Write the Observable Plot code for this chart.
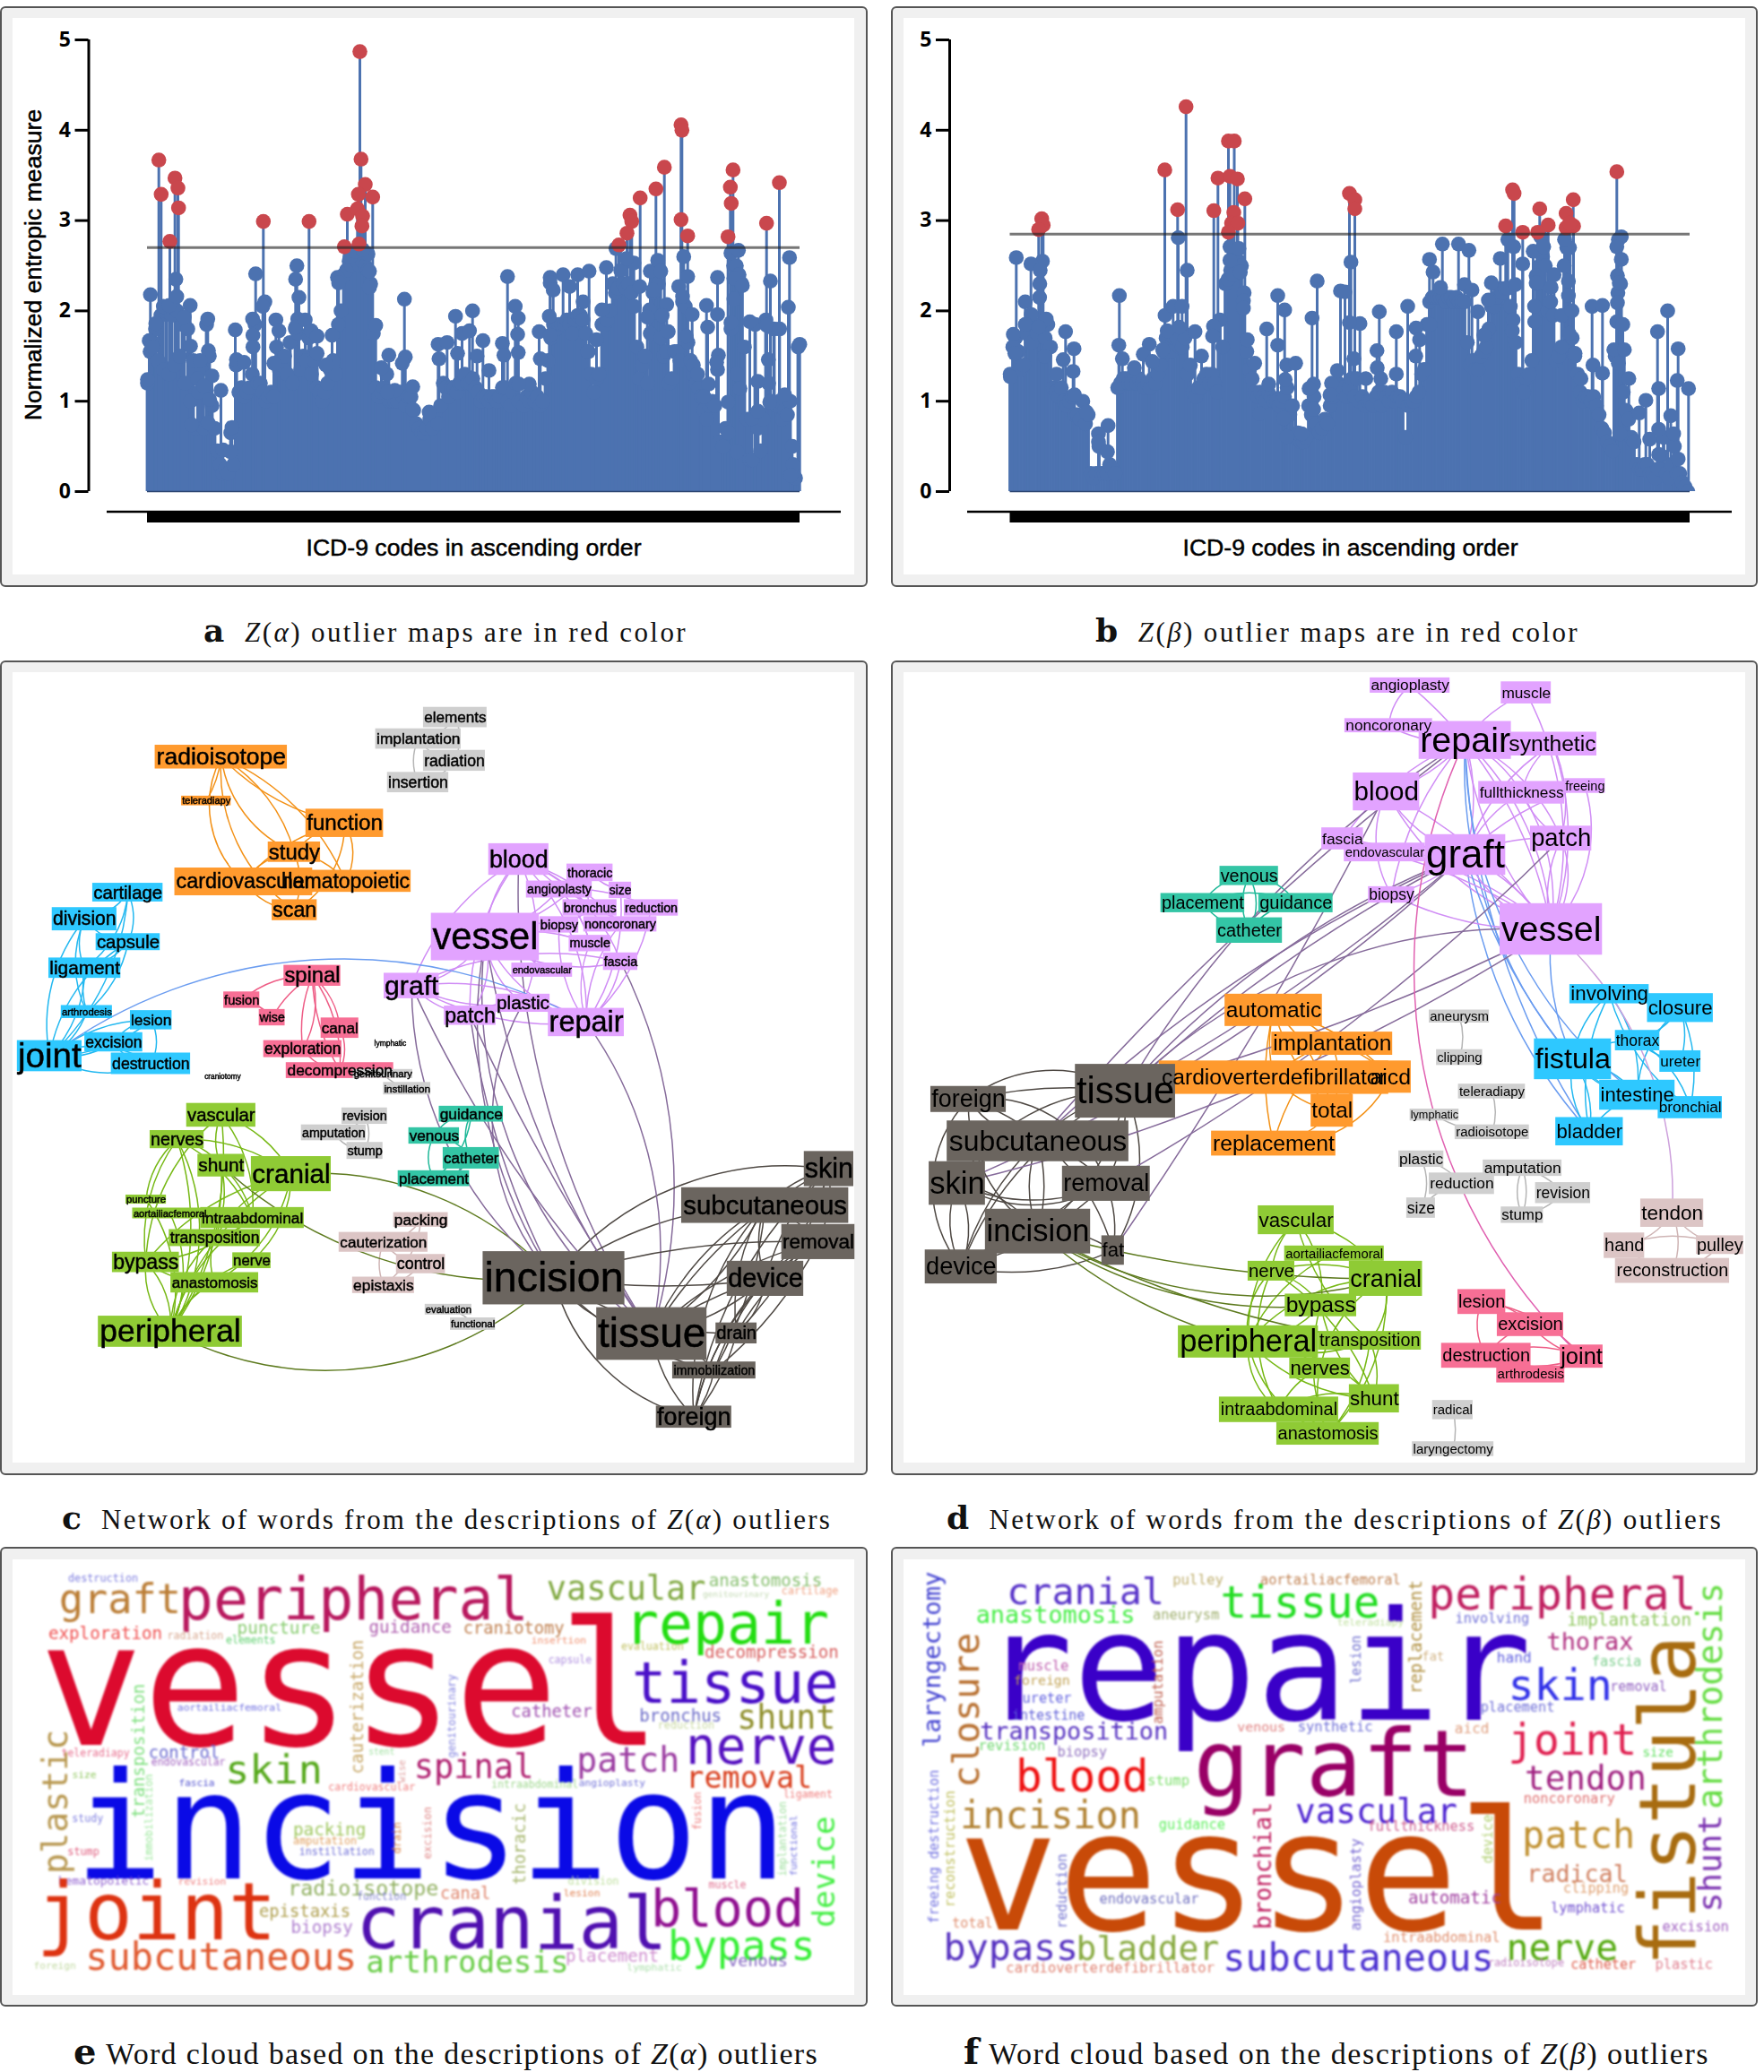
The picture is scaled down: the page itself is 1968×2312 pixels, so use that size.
<!DOCTYPE html>
<html><head><meta charset="utf-8">
<script src="https://cdn.jsdelivr.net/npm/d3@7"></script>
<script src="https://cdn.jsdelivr.net/npm/@observablehq/plot@0.6"></script>
<style>
html,body{margin:0;padding:0;background:#fff}
#page{position:relative;width:1968px;height:2312px;overflow:hidden}
.frame{position:absolute;box-sizing:border-box;border:2px solid #555;border-radius:6px;background:#f0f0f0}
.inner{position:absolute;background:#fff}
.cap{position:absolute;white-space:nowrap;font-family:"Liberation Serif",serif;color:#111;line-height:1}
.cap b{font-weight:700;font-family:"DejaVu Serif",serif}
</style></head><body><div id="page"></div>
<script>
// ---------- panel a: Z(alpha) ----------
const alphaSkyline=[
1.20,1.55,1.65,1.80,1.45,1.95,1.35,2.00,1.30,1.95,
1.40,2.00,1.50,1.85,1.20,1.80,1.00,1.45,0.70,1.10,
1.35,0.70,1.85,1.50,0.95,0.70,0.45,0.30,0.20,0.25,
0.20,0.65,0.30,1.40,1.10,1.15,1.05,1.10,1.15,1.30,
1.85,1.20,1.20,1.10,1.00,1.05,1.10,1.05,1.60,1.35,
1.40,1.50,1.30,1.65,1.20,1.80,1.75,1.35,1.50,1.45,
1.70,1.30,1.45,1.15,1.10,1.00,1.10,1.20,1.35,1.45,
1.30,1.85,2.00,2.40,2.45,2.55,2.50,2.60,2.55,2.50,
2.55,2.50,2.45,2.30,1.75,1.15,1.05,1.10,1.15,1.30,
1.00,1.00,1.00,1.00,1.10,1.05,0.95,1.05,1.05,0.90,
0.75,0.70,0.65,0.65,0.70,0.80,0.70,0.85,0.75,0.95,
1.20,1.15,1.05,1.15,1.15,1.10,1.20,1.20,1.30,1.20,
1.20,1.25,1.15,1.10,1.00,1.05,1.05,1.00,1.05,1.05,
1.00,1.05,1.15,1.15,1.00,0.95,1.10,1.20,1.00,1.00,
0.95,1.05,1.00,1.10,1.00,1.05,0.95,1.00,1.25,1.45,
1.70,1.85,1.80,1.85,1.85,1.85,1.90,1.85,1.75,1.90,
1.95,1.95,1.90,1.75,1.55,1.30,1.10,1.25,1.30,1.85,
1.85,1.90,2.00,2.30,2.20,2.25,2.45,2.30,2.25,2.30,
2.20,2.05,1.60,1.25,1.40,1.50,1.20,1.75,2.20,2.30,
2.30,1.70,1.50,1.55,1.20,1.25,1.55,1.55,1.45,2.10,
2.05,1.65,1.45,1.30,1.20,1.15,1.05,0.90,0.80,0.95,
1.00,0.95,1.35,0.55,0.50,0.70,0.65,1.80,2.50,2.50,
2.40,2.30,1.60,0.80,0.35,0.35,1.85,0.70,0.45,0.80,
1.90,1.20,1.00,1.80,0.95,1.00,0.80,0.90,0.85,1.00,
0.30,0.15,1.60];
const alphaBlue=[[3.3,2.18],[9.3,1.86],[2,1.67],[5.3,1.6],[0,1.24],[17.7,2.05],[24.3,2.06],[31.7,2.35],[32.7,2.16],[47.7,2.06],[41,1.93],[67.3,1.91],[48,1.61],[68,1.56],[58.7,1.45],[72,1.28],[56,1.25],[82,1.12],[62.7,1.17],[69.3,1.02],[49.3,.74],[67.7,.76],[94.3,.71],[84.3,.46],[92.7,.44],[98,1.79],[99.3,1.46],[107.7,1.43],[120.7,2.41],[131,2.1],[128.7,2.05],[117.3,1.91],[117.7,1.73],[117.7,1.6],[143.3,1.9],[146.7,1.78],[141,1.42],[166.7,2.5],[165.3,2.35],[169,2.15],[167.7,1.91],[165.3,1.82],[176,1.9],[182.7,1.78],[189.3,1.72],[189.3,1.53],[206,1.73],[212,2.37],[213.3,2.31],[199.3,1.4],[254.7,1.84],[246,2.63],[226,2.6],[232,2.66],[240,2.68],[247.7,2.44],[247.7,2.26],[286.7,2.13],[269.3,1.51],[287.7,1.49],[284.3,1.42],[261,1.37],[296,1.16],[276,1.12],[267.7,1.1],[296,.91],[314.3,.88],[324.3,1.63],[334.3,1.65],[325.3,1.47],[346,1.53],[343.7,1.94],[362.7,2],[351,1.75],[359.3,1.78],
[401.7,2.38],[410.3,2.05],[413.7,1.92],[413,1.74],[413.7,1.54],[396,1.64],[397.7,1.51],[374.3,1.67],[367.7,1.5],[381,1.34],[426,1.19],[414.3,1.19],[437,1.77],[438.3,1.47],[449.3,2.37],[449.3,2.31],[452.7,2.23],[463.7,2.4],[471,2.27],[480,2.4],[492.7,2.44],[486,2.1],[448.3,1.94],[449.3,1.73],[491,1.55],[501,1.68],[507,2.01],[512,2.48],[522.7,2.69],[542.7,2.53],[534.3,2.58],[549.3,2.27],[561,2.44],[569.3,2.56],[572.7,2.44],[564.3,2.23],[560.3,2.01],[579.3,2.07],[574.3,1.95],[557.7,1.93],[598.3,2.6],[602.7,2.38],[592.7,2.27],[597,2.16],[607.7,1.96],[601,1.72],[581,1.77],[609,1.4],[613.7,1.3],[623.7,2.06],[636,1.96],[625,1.82],[636,2.37],[637,1.51],[635,1.43],[626,1.19],[621,1.05],[651,2.64],[659.3,2.67],[654.3,2.36],[663.7,2.28],[654.3,2.13],[651,1.87],[672,1.88],[716.3,2.59],[695,2.33],[715,2.04],[691,1.84],[705.3,1.8],[692.7,1.46],[727.7,1.63],[681,1.22],[711,1.07],[694.3,.99],[674.3,.81],[681,.89],[719.3,.5],[717.7,.18],[657.7,1.3],[661,1.14],[647.7,.99],[657.7,.44]];
const alphaRed=[[12.7,3.67],[15.3,3.29],[30.7,3.47],[34,3.36],[34.7,3.14],[25,2.77],[129.3,2.99],[180.3,2.99],[237,4.87],[238.3,3.68],[243,3.4],[235.3,3.29],[251.3,3.26],[223,3.07],[234.3,3.13],[240,3.05],[239.3,2.94],[219.7,2.71],[236,2.74],
[595.3,4.06],[596.3,4],[653.3,3.56],[650.3,3.37],[651.3,3.19],[647.7,2.82],[705,3.42],[690.7,2.97],[576.7,3.59],[567.3,3.35],[549.7,3.25],[538.3,3.06],[540.3,2.99],[535,2.86],[526,2.73],[595.3,3.01],[602.7,2.83]];
// ---------- panel b: Z(beta) ----------
const betaSkyline=[
1.30,1.60,1.70,1.55,1.35,1.40,1.75,1.85,1.65,1.85,
1.75,2.30,2.55,1.70,1.85,1.60,1.15,1.10,1.05,1.15,
1.00,0.95,1.00,1.05,0.85,0.85,0.80,1.00,0.75,0.85,
0.20,0.15,0.20,0.50,0.20,0.20,0.20,0.30,0.25,0.20,
1.15,1.20,1.25,1.25,1.20,1.20,1.30,1.20,1.25,1.20,
1.15,1.20,1.15,1.25,1.20,1.30,1.40,1.55,1.70,1.60,
1.55,1.70,1.70,1.60,1.60,1.70,1.30,1.40,1.10,1.05,
1.15,1.15,1.25,1.30,1.20,1.30,1.20,1.10,1.90,1.60,
2.30,2.35,2.45,2.40,2.55,2.55,2.50,2.20,1.55,1.35,
1.25,1.10,1.05,1.10,1.05,1.00,1.10,1.05,1.00,1.00,
0.95,1.00,1.05,1.15,0.85,0.95,0.60,0.65,0.55,0.55,
0.60,0.95,0.85,1.05,0.75,0.65,0.70,0.80,0.75,0.95,
1.05,1.10,1.20,1.10,1.15,1.05,1.15,1.25,1.05,1.25,
1.00,1.05,0.95,1.00,1.00,0.95,1.05,1.10,0.95,1.10,
1.05,1.00,1.10,1.00,1.05,1.05,1.00,0.60,0.95,1.00,
1.00,1.05,1.10,1.30,1.35,1.85,2.10,2.15,2.15,2.15,
2.15,2.15,2.10,2.15,2.15,2.10,2.15,2.10,2.10,2.10,
1.65,1.40,1.45,1.35,1.35,1.50,1.55,1.60,1.80,2.05,
2.05,2.15,2.25,2.20,2.25,2.25,2.05,1.90,1.65,1.30,
1.20,1.10,1.25,1.30,1.45,2.05,2.30,2.50,2.60,2.50,
2.00,2.10,1.95,1.45,1.50,1.60,2.50,2.70,2.70,1.70,
1.50,1.30,1.10,1.00,1.05,1.05,1.00,1.05,0.95,0.85,
0.70,0.65,0.55,0.50,0.45,1.50,2.20,2.30,1.10,0.90,
0.80,0.60,0.55,0.30,0.25,0.25,0.30,0.30,0.20,0.20,
0.15,0.25,0.40,0.60,0.20,0.15,0.30,0.50,0.20,0.20,
0.10,0.05,0.00];
const betaBlue=[[6.8,2.59],[23.2,2.52],[33.5,2.45],[32.8,2.15],[16.8,2.1],[40.2,1.91],[23.5,1.96],[16.8,1.85],[31.8,1.82],[3.5,1.74],[3.5,1.6],[5.2,1.53],[.2,1.27],[61.8,1.77],[71.2,1.58],[59.2,1.46],[70.2,1.33],[38.5,1.5],[51.8,1.3],[71.8,1.07],[85.2,.88],[109.2,.73],[98.5,.64],[98.5,.55],[108.5,.44],[121.8,2.17],[121.2,1.62],[125.2,1.47],[138.5,1.37],[155.2,1.63],[148.5,1.52],[158.5,1.44],[170.2,1.57],[187.5,2.81],[197.5,2.45],[172.8,1.95],[181.8,2.05],[191.8,2.05],[175.2,1.78],[188.5,1.82],[206.2,1.77],[213.5,1.5],[226.8,1.83],[225.8,1.72],[245.2,2.71],[255.2,2.69],[245.2,2.56],[256.8,2.43],[260.2,2.11],[260.2,2.03],[264.5,1.68],[272.8,1.42],[286.2,1.8],[298.5,2.17],[306.2,2.01],[298.5,1.62],[342.5,2.33],[336.8,1.92],[368.5,2.22],[308.5,1.4],[318.5,1.42],[306.8,1.24],[288.5,1.19],[338.5,1.19],[333.5,1.14],[338.5,.91],[358.5,1.2],[365,1.34],[356.8,1.07],[305.2,.81],[278.5,.86],[325.2,.64],[308.5,.61],
[380.2,2.54],[373.5,2.21],[467.8,2.57],[471.8,2.43],[482.2,2.74],[500.2,2.74],[511.8,2.67],[480.2,2.26],[506.8,2.29],[515.2,2.23],[521.8,1.99],[468.5,1.85],[452.8,1.81],[456.8,1.68],[452.5,1.5],[443.5,2.05],[430.8,1.77],[411.8,1.99],[409.2,1.56],[409.5,1.37],[413.5,1.25],[430.8,1.3],[396.8,1.25],[390.2,1.86],[378.5,1.87],[383.5,1.47],[555.2,2.79],[546.8,2.58],[561.8,2.71],[536.8,2.31],[533.5,2.12],[563.5,2.29],[571.8,2.52],[583.5,2.66],[591.8,2.82],[595.2,2.71],[586.8,2.39],[586.8,2.31],[606.8,2.4],[603.5,2.26],[585.2,1.88],[615.2,1.95],[626.8,2],[618.5,2.79],[622.8,2.33],[622.8,2.17],[623.5,1.75],[630.2,1.53],[636.8,1.25],[528.5,1.73],[560.2,1.78],[678.5,2.79],[681.8,2.82],[676.8,2.71],[681.8,2.57],[677.5,2.39],[679.5,2.31],[677.5,2.09],[676.8,1.88],[683.5,1.85],[673.5,1.57],[685.2,1.57],[678.5,1.42],[649.2,2.05],[660.8,2.06],[650.2,1.4],[660.8,1.31],[690.2,1.25],[733.5,2],[722.2,1.77],[745.2,1.58],[744.2,1.23],[756.8,1.14],[723.5,1.14],[709.2,1.01],[701.8,.87],[737,.84],[723.5,.69],[740.2,.64],[713.5,.58],[723.5,.41],[745.2,.36],[680.2,.64]];
const betaRed=[[196.2,4.26],[243.5,3.88],[250,3.88],[172.5,3.56],[231.8,3.47],[245.2,3.49],[253.5,3.46],[261.8,3.24],[227.2,3.11],[186.8,3.12],[249.5,3.09],[247,2.97],[254,2.97],[243.5,2.87],[35.2,3.02],[36.8,2.95],[31.8,2.9],
[378.5,3.3],[384.5,3.23],[384.5,3.13],[560.5,3.34],[562.2,3.3],[590.8,3.13],[600.2,2.95],[552.8,2.94],[571.8,2.87],[588.5,2.87],[628.2,3.23],[620.2,3.08],[628.5,2.94],[620.2,2.92],[624.2,2.97],[676.8,3.54]];
const yTicks=[0,1,2,3,4,5];
const xLabel="ICD-9 codes in ascending order", yLabel="Normalized entropic measure";

// ---------- panel c: network layout (word, x1, x2, y1, y2) ----------
const orangeC=[["radioisotope",275,510,160,202],["teleradiapy",322,410,250,267],["function",543,681,273,323],["study",476,569,331,367],["cardiovascular",310,555,377,426],["hematopoietic",497,730,381,420],["scan",483,563,433,470]];
const purpleC=[["blood",868,975,334,390],["thoracic",1007,1089,370,401],["angioplasty",935,1052,400,430],["size",1082,1122,402,431],["bronchus",1000,1096,433,462],["reduction",1109,1205,433,462],["biopsy",959,1028,463,492],["noncoronary",1037,1167,463,490],["vessel",766,958,457,541],["muscle",1011,1085,496,525],["endovascular",909,1017,545,570],["fascia",1072,1133,527,558],["graft",682,780,563,608],["plastic",881,977,600,632],["patch",789,881,621,655],["repair",974,1109,625,675]];
const blueC=[["cartilage",164,289,404,437],["division",92,207,447,488],["capsule",170,284,493,523],["ligament",86,214,536,572],["arthrodesis",108,199,620,643],["lesion",231,305,629,663],["excision",150,253,668,702],["joint",30,145,682,737],["destruction",197,338,704,742]];
const pinkC=[["spinal",504,605,549,586],["fusion",397,461,596,625],["wise",460,506,627,656],["canal",570,637,642,678],["exploration",468,607,682,712],["decompression",508,699,721,749]];
const greyC=[["elements",752,865,93,129],["implantation",667,819,131,167],["radiation",752,862,169,206],["insertion",688,797,208,244],["genitourinary",627,733,733,749],["instillation",681,765,756,778],["revision",607,688,801,830],["amputation",535,650,831,859],["stump",616,680,862,892],["evaluation",755,838,1148,1167],["functional",800,880,1172,1194]];
const plainC=[["lymphatic",664,722,680,694],["craniotomy",362,428,739,752]];
const tealC=[["guidance",780,894,798,826],["venous",726,816,836,865],["catheter",787,887,871,909],["placement",707,834,912,940]];
const greenC=[["vascular",331,454,793,835],["nerves",266,362,841,873],["shunt",351,434,883,923],["cranial",446,588,887,949],["puncture",223,295,955,971],["aortailiacfemoral",235,368,978,997],["intraabdominal",356,540,977,1014],["transposition",300,462,1016,1046],["bypass",199,318,1056,1092],["nerve",413,481,1057,1085],["anastomosis",303,459,1092,1128],["peripheral",174,430,1169,1224]];
const roseC=[["packing",699,796,986,1012],["cauterization",602,760,1021,1056],["control",704,791,1060,1094],["epistaxis",626,736,1100,1129]];
const darkC=[["skin",1429,1517,878,940],["subcutaneous",1211,1508,942,1005],["removal",1389,1519,1007,1069],["device",1292,1428,1072,1134],["incision",858,1110,1055,1149],["tissue",1060,1256,1154,1247],["drain",1272,1345,1181,1218],["immobilization",1195,1343,1250,1280],["foreign",1166,1300,1328,1367]];
// edges: [colour, bend, hub, targets]
const edgesC=[
["orange",-30,"radioisotope","study scan"],["orange",-38,"radioisotope","cardiovascular"],["orange",22,"radioisotope","study hematopoietic"],["orange",-18,"radioisotope","function"],["orange",12,"radioisotope","teleradiapy"],
["orange",-20,"function","study cardiovascular"],["orange",30,"function","scan hematopoietic"],["orange",-25,"cardiovascular","hematopoietic scan"],["orange",25,"cardiovascular","study"],["orange",20,"study","scan hematopoietic"],
["grey",25,"elements","implantation radiation"],["grey",-25,"implantation","radiation insertion"],["grey",25,"radiation","insertion"],
["grey",25,"revision","amputation stump"],["grey",-25,"amputation","stump"],["grey",20,"evaluation","functional"],["grey",-15,"genitourinary","instillation"],
["purple",-20,"blood","vessel graft patch"],["purple",25,"blood","repair plastic muscle fascia"],["purple",15,"blood","bronchus noncoronary"],
["purple",-15,"vessel","thoracic angioplasty"],["purple",25,"vessel","graft patch"],["purple",-25,"vessel","repair plastic fascia"],["purple",18,"vessel","muscle endovascular biopsy"],
["purple",20,"graft","repair fascia"],["purple",-18,"graft","plastic patch repair"],["purple",20,"repair","muscle noncoronary biopsy"],["purple",-20,"repair","fascia reduction size"],["purple",-15,"thoracic","bronchus angioplasty size"],["purple",15,"angioplasty","bronchus reduction muscle"],["purple",18,"bronchus","biopsy noncoronary"],["purple",20,"patch","plastic repair"],
["blue",-22,"joint","cartilage ligament"],["blue",25,"joint","division capsule"],["blue",-20,"joint","arthrodesis lesion excision"],["blue",30,"joint","destruction"],["blue",-28,"joint","destruction"],["blue",20,"joint","lesion"],
["blue",25,"cartilage","division ligament capsule"],["blue",-25,"division","capsule ligament arthrodesis"],["blue",20,"capsule","ligament arthrodesis"],["blue",-15,"ligament","arthrodesis"],["blue",25,"excision","lesion"],["blue",-30,"excision","destruction"],["blue",28,"lesion","destruction"],
["lb",33,"joint","repair"],
["pink",-22,"spinal","fusion"],["pink",-15,"spinal","wise exploration decompression"],["pink",22,"spinal","canal exploration"],["pink",20,"spinal","decompression"],["pink",20,"fusion","wise"],["pink",-25,"exploration","decompression"],["pink",25,"canal","decompression"],
["teal",-30,"guidance","venous catheter"],["teal",25,"guidance","placement"],["teal",-30,"venous","placement"],["teal",25,"venous","catheter"],["teal",28,"catheter","placement"],
["rose",25,"packing","cauterization epistaxis"],["rose",-22,"cauterization","control epistaxis"],["rose",22,"control","epistaxis"],
["green",-20,"peripheral","vascular nerves shunt"],["green",22,"peripheral","cranial intraabdominal anastomosis"],["green",25,"peripheral","transposition nerve bypass"],["green",-25,"peripheral","bypass puncture aortailiacfemoral"],["green",-30,"peripheral","nerves"],
["green",-25,"vascular","bypass shunt"],["green",22,"vascular","intraabdominal cranial"],["green",20,"nerves","intraabdominal shunt cranial"],["green",-22,"nerves","bypass puncture"],["green",18,"shunt","intraabdominal transposition"],["green",-20,"cranial","bypass transposition"],["green",25,"cranial","anastomosis nerve"],["green",-18,"bypass","intraabdominal anastomosis"],["green",-20,"transposition","anastomosis"],
["ol",26,"cranial","incision"],["ol",-24,"shunt","incision"],["ol",-36,"peripheral","incision"],
["xp",-22,"vessel","incision"],["xp",-14,"vessel","tissue"],["xp",-26,"graft","incision"],["xp",-10,"graft","tissue"],["xp",-10,"patch","incision"],["xp",-5,"patch","tissue"],["xp",-36,"plastic","incision"],["xp",-18,"blood","tissue"],["xp",24,"repair","tissue"],["xp",22,"fascia","tissue"],["xp",-30,"vessel","tissue"],
["dark",30,"incision","skin"],["dark",18,"incision","subcutaneous"],["dark",10,"incision","removal"],["dark",-8,"incision","device"],["dark",-25,"incision","tissue"],["dark",-32,"incision","foreign"],["dark",-18,"incision","immobilization drain"],
["dark",16,"tissue","skin"],["dark",-15,"tissue","subcutaneous"],["dark",18,"tissue","subcutaneous"],["dark",16,"tissue","removal"],["dark",-16,"tissue","device"],["dark",10,"tissue","device"],["dark",-18,"tissue","foreign"],["dark",18,"tissue","immobilization"],
["dark",20,"foreign","skin"],["dark",24,"foreign","subcutaneous"],["dark",16,"foreign","device"],["dark",-12,"foreign","immobilization drain"],["dark",25,"foreign","removal"],["dark",10,"immobilization","device"],["dark",-12,"immobilization","removal subcutaneous"],
["dark",-15,"skin","subcutaneous device"],["dark",15,"skin","removal device drain"],["dark",-20,"subcutaneous","device drain"],["dark",15,"subcutaneous","removal"],["dark",-12,"removal","device drain"],["dark",22,"device","drain"]
];
// ---------- panel d ----------
const purpleD=[["angioplasty",867,1009,41,68],["muscle",1100,1189,48,87],["noncoronary",822,978,113,138],["repair",954,1118,118,185],["synthetic",1112,1270,137,179],["fullthickness",1060,1213,224,264],["freeing",1213,1285,219,245],["blood",837,955,209,276],["patch",1152,1261,303,347],["fascia",781,855,306,345],["endovascular",821,965,333,366],["graft",965,1108,318,390],["biopsy",864,946,410,439],["vessel",1098,1280,440,531]];
const tealD=[["venous",600,704,374,408],["placement",495,644,422,456],["guidance",669,801,422,456],["catheter",594,711,465,510]];
const orangeD=[["automatic",609,782,600,657],["implantation",692,907,667,708],["cardioverterdefibrillator",492,900,718,777],["aicd",866,940,718,775],["total",762,837,777,835],["replacement",585,806,842,886]];
const darkD=[["tissue",343,521,724,819],["foreign",86,220,763,809],["subcutaneous",115,438,824,896],["skin",83,183,896,973],["removal",320,476,904,966],["incision",183,370,980,1059],["fat",390,430,1027,1079],["device",76,204,1052,1112]];
const greyD=[["aneurysm",972,1079,628,651],["clipping",985,1067,698,726],["teleradiapy",1024,1143,759,785],["lymphatic",938,1025,803,824],["radioisotope",1018,1150,831,857],["plastic",918,998,877,906],["amputation",1068,1208,893,922],["reduction",972,1088,916,954],["revision",1161,1259,933,970],["size",932,983,960,996],["stump",1100,1175,976,1005],["radical",978,1050,1318,1352],["laryngectomy",942,1087,1391,1417]];
const blueD=[["involving",1222,1363,583,617],["closure",1360,1477,599,650],["thorax",1303,1382,664,700],["ureter",1382,1455,700,738],["fistula",1159,1296,679,751],["intestine",1275,1409,752,805],["bronchial",1379,1493,781,820],["bladder",1197,1317,818,868]];
const roseD=[["tendon",1348,1460,962,1012],["hand",1283,1355,1022,1067],["pulley",1447,1531,1027,1060],["reconstruction",1303,1506,1067,1111]];
const greenD=[["vascular",668,803,974,1025],["aortailiacfemoral",715,892,1045,1072],["nerve",650,733,1072,1107],["cranial",830,960,1072,1134],["bypass",716,843,1130,1170],["peripheral",526,775,1186,1243],["transposition",775,958,1196,1229],["nerves",724,832,1243,1280],["shunt",830,919,1290,1340],["intraabdominal",599,811,1312,1357],["anastomosis",701,883,1357,1397]];
const pinkD=[["lesion",1023,1108,1122,1166],["excision",1093,1211,1163,1205],["destruction",994,1153,1217,1261],["joint",1205,1281,1220,1261],["arthrodesis",1092,1213,1257,1287]];
const edgesD=[
["purple",-18,"repair","vessel"],["purple",22,"repair","vessel patch"],["purple",16,"repair","fullthickness graft blood"],["purple",-16,"repair","fascia biopsy synthetic"],["purple",18,"repair","noncoronary"],["purple",-22,"angioplasty","noncoronary"],["purple",20,"angioplasty","vessel"],["purple",-15,"muscle","repair"],["purple",22,"muscle","vessel"],
["purple",20,"synthetic","vessel patch"],["purple",-20,"synthetic","graft fullthickness"],["purple",30,"freeing","vessel"],["purple",-14,"freeing","graft"],["purple",20,"fullthickness","vessel"],["purple",-18,"fullthickness","graft patch"],["purple",12,"blood","vessel"],["purple",-22,"blood","graft vessel"],["purple",-28,"blood","biopsy"],["purple",16,"fascia","vessel"],["purple",-12,"fascia","graft"],["purple",10,"endovascular","graft vessel"],["purple",-25,"graft","vessel"],["purple",14,"graft","vessel patch"],["purple",-20,"patch","vessel"],["purple",28,"patch","vessel"],["purple",-14,"biopsy","graft vessel"],
["teal",-28,"venous","placement"],["teal",28,"venous","guidance catheter"],["teal",-22,"placement","catheter"],["teal",25,"placement","guidance"],["teal",-25,"guidance","catheter"],["teal",-28,"venous","catheter"],
["orange",-14,"automatic","cardioverterdefibrillator total replacement"],["orange",18,"automatic","aicd implantation total"],["orange",20,"implantation","total"],["orange",-16,"implantation","replacement cardioverterdefibrillator"],["orange",16,"implantation","aicd"],["orange",-22,"replacement","total"],["orange",-35,"replacement","aicd"],["orange",20,"total","aicd"],["orange",-18,"cardioverterdefibrillator","total aicd"],
["xp",24,"tissue","vessel"],["xp",8,"tissue","graft"],["xp",14,"tissue","graft repair"],["xp",10,"subcutaneous","graft"],["xp",-10,"skin","vessel"],["xp",-10,"skin","graft"],["xp",-8,"removal","patch"],["xp",-6,"tissue","graft vessel"],["xp",4,"blood","fat"],["xp",6,"subcutaneous","repair"],
["lb",-22,"repair","fistula"],["lb",-16,"repair","bladder"],["lb",-26,"repair","intestine"],["lb",-18,"graft","bladder"],["lb",-12,"graft","fistula"],["lb",-15,"vessel","fistula"],
["mg",-36,"repair","joint"],["lp",26,"vessel","tendon"],
["grey",18,"aneurysm","clipping"],["grey",18,"teleradiapy","radioisotope"],["grey",-15,"lymphatic","radioisotope"],["grey",18,"plastic","reduction"],["grey",25,"plastic","size"],["grey",-20,"reduction","size"],["grey",18,"amputation","revision stump"],["grey",-25,"amputation","stump"],["grey",18,"revision","stump"],["grey",14,"radical","laryngectomy"],
["blue",-22,"involving","fistula"],["blue",22,"involving","intestine closure"],["blue",-20,"involving","bladder bronchial"],["blue",18,"closure","ureter bronchial thorax"],["blue",-25,"closure","intestine"],["blue",-18,"thorax","fistula ureter"],["blue",22,"thorax","bronchial"],["blue",22,"fistula","intestine bladder"],["blue",-25,"fistula","bladder intestine bronchial"],["blue",-18,"intestine","bladder"],["blue",20,"intestine","bronchial"],
["rose",22,"tendon","hand reconstruction"],["rose",-20,"tendon","pulley"],["rose",22,"hand","pulley"],["rose",-18,"hand","reconstruction"],["rose",20,"pulley","reconstruction"],
["pink",-28,"lesion","destruction"],["pink",22,"lesion","joint excision"],["pink",-18,"excision","joint destruction"],["pink",22,"destruction","joint"],["pink",-24,"destruction","joint arthrodesis"],["pink",20,"joint","arthrodesis"],
["green",-24,"vascular","peripheral"],["green",24,"vascular","bypass cranial"],["green",-18,"vascular","transposition nerve"],["green",-28,"nerve","intraabdominal peripheral"],["green",20,"nerve","cranial bypass shunt"],["green",-22,"aortailiacfemoral","peripheral"],["green",25,"cranial","transposition anastomosis"],["green",-25,"cranial","peripheral nerves"],["green",22,"bypass","peripheral"],["green",-20,"bypass","anastomosis shunt"],["green",-30,"peripheral","anastomosis intraabdominal"],["green",22,"peripheral","nerves shunt"],["green",-22,"peripheral","shunt transposition"],["green",18,"transposition","shunt anastomosis"],["green",-20,"nerves","intraabdominal anastomosis"],["green",24,"intraabdominal","shunt"],["green",20,"intraabdominal","anastomosis"],
["ol",-8,"incision","cranial"],["ol",-20,"incision","bypass"],["ol",-10,"incision","transposition"],["ol",-14,"incision","peripheral"],["ol",-24,"incision","cranial"],
["dark",40,"foreign","removal"],["dark",35,"foreign","tissue"],["dark",-42,"foreign","device"],["dark",-30,"foreign","incision"],["dark",28,"foreign","fat"],["dark",-25,"foreign","subcutaneous"],
["dark",-30,"tissue","skin"],["dark",-22,"tissue","device"],["dark",22,"tissue","incision"],["dark",-15,"tissue","subcutaneous"],["dark",28,"tissue","fat"],["dark",15,"tissue","removal"],["dark",-10,"tissue","foreign"],
["dark",-25,"skin","removal"],["dark",-32,"skin","removal"],["dark",22,"skin","incision"],["dark",25,"skin","device"],["dark",-25,"skin","device"],["dark",-15,"subcutaneous","device"],["dark",15,"subcutaneous","incision removal"],["dark",-22,"subcutaneous","skin incision"],["dark",-15,"removal","incision"],["dark",15,"removal","device fat"],["dark",-16,"incision","device"],["dark",20,"incision","fat"],["dark",-18,"device","fat"]
];
// ---------- panel e word cloud: horizontal [word, x1, x2, baseline, colour], vertical [word, baseline, y1, y2, colour] ----------
const cloudE=[["vessel",85,1160,600,"#dc0a2e"],["incision",150,1380,995,"#0a0ae6"],["peripheral",325,930,228,"#b8185e"],["graft",107,318,210,"#bb7d35"],["vascular",975,1250,172,"#7fa840"],["anastomosis",1262,1458,130,"#88c070"],["repair",1115,1468,300,"#22dd11"],["tissue",1128,1485,475,"#4a10c8"],["shunt",1312,1482,553,"#8e8e2a"],["bronchus",1138,1280,530,"#6a6ac8"],["reduction",1170,1268,553,"#c8d8a0"],["nerve",1222,1483,655,"#5510c0"],["removal",1222,1440,727,"#d83a18"],["patch",1027,1205,680,"#9a3aa0"],["spinal",738,945,697,"#b02070"],["skin",402,570,715,"#55a81a"],["control",265,388,640,"#6a6ad0"],["exploration",88,285,288,"#f05050"],["radiation",298,395,288,"#d8a890"],["elements",402,488,300,"#60d070"],["puncture",423,567,272,"#88cc70"],["guidance",657,800,268,"#b060b0"],["craniotomy",825,1000,272,"#c08050"],["insertion",945,1040,300,"#f09070"],["evaluation",1105,1213,318,"#c0c060"],["decompression",1255,1487,343,"#d86060"],["capsule",975,1050,360,"#b090e0"],["catheter",910,1050,518,"#a050b0"],["aortailiacfemoral",317,497,500,"#7070e0"],["destruction",122,243,118,"#8080e0"],["cartilage",1390,1488,155,"#f0a080"],["genitourinary",1250,1365,162,"#c0d8b0"],["intraabdominal",875,1025,727,"#a0d890"],["angioplasty",1030,1145,722,"#7070d8"],["teleradiapy",110,228,635,"#e87090"],["endovascular",270,398,660,"#a060c0"],["size",128,170,697,"#90c860"],["fascia",318,380,722,"#5050d0"],["cardiovascular",585,735,735,"#f08080"],["study",128,182,827,"#8080e0"],["packing",522,648,868,"#a0c860"],["amputation",522,632,895,"#e0a060"],["instillation",533,663,927,"#7070d8"],["stump",120,175,927,"#e06080"],["hematopoietic",105,262,1012,"#9060d0"],["revision",317,400,1012,"#f08080"],["division",1010,1098,1012,"#c0e0a0"],["muscle",1260,1325,1025,"#e07090"],["lesion",1002,1065,1048,"#e08050"],["radioisotope",515,775,1045,"#90b060"],["canal",783,870,1055,"#e08870"],["function",635,720,1058,"#8080d0"],["epistaxis",462,620,1108,"#b0a050"],["biopsy",518,625,1155,"#b080d0"],["joint",70,485,1175,"#dd3311"],["cranial",640,1178,1200,"#5010b0"],["blood",1160,1425,1135,"#901090"],["bypass",1190,1445,1235,"#33ee33"],["subcutaneous",158,627,1265,"#e05a30"],["arthrodesis",655,1005,1272,"#66cc44"],["placement",1007,1168,1242,"#d090d0"],["venous",1295,1398,1255,"#8060c0"],["lymphatic",1115,1210,1268,"#b0e0b0"],["foreign",60,133,1262,"#c0d8a0"],["ligament",1393,1478,757,"#f08080"],["stent",655,700,628,"#a0e0a0"]];
const cloudEv=[["plastic",118,560,975,"#b89850"],["transposition",255,425,810,"#7fe07f"],["cauterization",645,295,680,"#c8a868"],["thoracic",933,775,1010,"#a8b870"],["device",1482,815,1135,"#44ee44"],["genitourinary",808,395,635,"#8080e0"],["fusion",1245,740,850,"#f08080"],["excision",766,785,935,"#e08888"],["drain",712,830,920,"#d88040"],["implantation",1397,770,985,"#a0e0a0"],["functional",1416,810,985,"#7070e0"],["immobilization",270,690,940,"#a0e8a0"],["wise",720,645,710,"#e0a0a0"]];
const cloudF=[["repair",190,1140,525,"#3a00c8"],["graft",560,1045,750,"#990066"],["vessel",150,1185,1145,"#c84a08"],["cranial",225,497,185,"#5530c8"],["tissue",605,880,225,"#22dd22"],["peripheral",977,1440,200,"#c02060"],["pulley",517,605,125,"#c0b070"],["aortailiacfemoral",675,918,125,"#c08050"],["anastomosis",170,445,240,"#44ee44"],["aneurysm",482,597,228,"#a0b070"],["teleradiapy",810,925,248,"#c0e0a0"],["involving",1020,1148,240,"#7070d8"],["implantation",1220,1435,247,"#90c860"],["thorax",1183,1333,318,"#b03080"],["fat",960,998,350,"#d0b080"],["hand",1093,1153,355,"#6060e0"],["fascia",1262,1348,368,"#80d090"],["muscle",243,330,380,"#c060b0"],["foreign",235,332,422,"#c0a050"],["ureter",250,335,475,"#6060e0"],["intestine",232,358,525,"#6060d8"],["skin",1115,1295,468,"#3030e8"],["removal",1295,1393,440,"#9060c0"],["placement",1065,1193,502,"#7070d8"],["transposition",178,503,585,"#5530c0"],["venous",632,715,560,"#e08080"],["synthetic",740,870,560,"#7070d8"],["aicd",1018,1078,565,"#e0a080"],["revision",172,288,615,"#70d870"],["biopsy",312,398,635,"#9070c0"],["joint",1115,1338,630,"#e02050"],["size",1352,1405,635,"#60e060"],["blood",240,470,738,"#ee1111"],["stump",472,545,718,"#80e070"],["tendon",1145,1355,733,"#a02080"],["noncoronary",1142,1300,772,"#e07070"],["incision",143,455,845,"#b08030"],["guidance",493,608,848,"#60f060"],["vascular",738,1018,830,"#4a20d0"],["fullthickness",865,1050,855,"#d06090"],["patch",1140,1335,905,"#c09030"],["endovascular",388,560,1068,"#7070c0"],["automatic",937,1098,1068,"#a040a0"],["radical",1148,1322,1005,"#d08060"],["clipping",1212,1325,1038,"#e0a070"],["lymphatic",1190,1318,1095,"#7050d0"],["total",125,195,1140,"#e09070"],["excision",1388,1503,1150,"#a060c0"],["intraabdominal",893,1095,1183,"#e09070"],["bypass",112,345,1235,"#5530c0"],["bladder",348,595,1235,"#88aa40"],["subcutaneous",612,1080,1268,"#4a30d0"],["nerve",1112,1305,1235,"#55aa11"],["cardioverterdefibrillator",225,585,1272,"#e08070"],["radioisotope",1078,1210,1255,"#c080c0"],["catheter",1225,1338,1262,"#e06050"],["plastic",1375,1475,1262,"#e08090"]];
const cloudFv=[["fistula",1445,290,1240,"#a86c10"],["arthrodesis",1492,130,780,"#66dd44"],["shunt",1490,810,1090,"#7a30b0"],["closure",172,275,720,"#b87030"],["laryngectomy",103,95,600,"#4040d0"],["replacement",958,118,445,"#b09040"],["lesion",850,278,418,"#7070d0"],["amputation",498,295,535,"#c06050"],["bronchial",690,775,1140,"#c02060"],["device",1085,808,948,"#b0d070"],["angioplasty",850,880,1145,"#7060d0"],["freeing destruction",100,680,1122,"#7070e0"],["reconstruction",128,740,1075,"#c0c060"],["reduction",328,925,1140,"#7070d0"]];

// ---------- colours and captions ----------
const fills={orange:"#ff9a2e",purple:"#e2a3ff",blue:"#2ec8ff",pink:"#f76f95",grey:"#cfcfcf",plain:"none",teal:"#33c5a5",green:"#8fcb35",rose:"#dcc5c5",dark:"#6b655f"};
const strokes={orange:"#f39014",purple:"#d08df5",blue:"#22b8f0",pink:"#ee5c85",grey:"#b5b5b5",teal:"#1fb898",green:"#76b814",rose:"#cfb5b5",dark:"#4e4843",xp:"#856a9a",ol:"#5d7a1e",lb:"#6a9cf0",mg:"#e060b0",lp:"#cda0dc"};
const BLUE="#4c72b0",RED="#c9474d";
const page=document.getElementById("page");
const ctx=document.createElement("canvas").getContext("2d");
const fit=(t,w,font)=>{ctx.font=`100px ${font}`;return 100*w/ctx.measureText(t).width;};
function box(cls,l,t,r,b){const d=document.createElement("div");d.className=cls;d.style.cssText=`left:${l}px;top:${t}px;width:${r-l}px;height:${b-t}px`;page.append(d);}
function place(svg,left,top){svg.style.position="absolute";svg.style.left=left+"px";svg.style.top=top+"px";svg.style.background="transparent";svg.style.overflow="visible";svg.style.maxWidth="none";page.append(svg);}
[[0,7,968,655,14,20,953,641],[994,7,1961,655,1008,20,1947,641],[0,737,968,1646,14,750,953,1632],[994,737,1961,1646,1008,750,1947,1632],[0,1726,968,2239,14,1740,953,2226],[994,1726,1961,2239,1008,1740,1947,2226]].forEach(f=>{box("frame",f[0],f[1],f[2],f[3]);box("inner",f[4],f[5],f[6],f[7]);});

function lolli({skyline,blue,red,thr,xMax,x0,x1,axisX,line,labelX,withY,left}){
  const base=skyline.map((v,i)=>[i*3,v]);
  const pts=base.concat(blue);
  const px=(x1-x0)/xMax, toRank=p=>(p-x0)/px;
  const W=984,yv=p=>(548-p)/100.8;
  const svg=Plot.plot({width:W,height:660,marginLeft:axisX,marginRight:0,marginTop:0,marginBottom:112,
    x:{domain:[0,xMax],range:[x0,x1],axis:null},
    y:{domain:[0,5],range:[548,44],axis:null},
    marks:[
      Plot.ruleX(base,{x:d=>d[0],y1:()=>0,y2:d=>d[1],stroke:BLUE,strokeWidth:3.8,clip:true}),
      Plot.ruleX(blue.concat(red),{x:d=>d[0],y1:()=>0,y2:d=>d[1],stroke:BLUE,strokeWidth:3,clip:true}),
      Plot.dot(pts,{x:d=>d[0],y:d=>d[1],r:8.3,fill:BLUE,clip:true}),
      Plot.dot(red,{x:d=>d[0],y:d=>d[1],r:8.3,fill:RED}),
      Plot.ruleY([0],{x1:()=>0,x2:()=>xMax,stroke:"#2a4470",strokeWidth:1.5}),
      Plot.ruleY([thr],{x1:()=>0,x2:()=>xMax,stroke:"#222",strokeOpacity:.62,strokeWidth:3}),
      Plot.axisY({ticks:yTicks,tickFormat:d3.format("d"),anchor:"left",tickSize:15,tickPadding:5,strokeWidth:3,stroke:"#000",fontSize:23,fontWeight:700,label:null,fill:"#000"}),
      Plot.ruleX([toRank(axisX)],{y1:()=>0,y2:()=>5,stroke:"#000",strokeWidth:3}),
      Plot.ruleY([yv(570.5)],{x1:()=>toRank(line[0]),x2:()=>toRank(line[1]),stroke:"#000",strokeWidth:2.5}),
      Plot.rect([0],{x1:()=>0,x2:()=>xMax,y1:()=>yv(572),y2:()=>yv(583),fill:"#000"}),
      Plot.text([xLabel],{x:()=>toRank(labelX),y:()=>yv(611),text:d=>d,fontSize:26.6,fontFamily:"Liberation Sans",fill:"#000",stroke:"#000",strokeWidth:.5}),
      withY?Plot.text([yLabel],{x:()=>toRank(37),y:()=>yv(295),text:d=>d,rotate:-90,fontSize:26.6,fontFamily:"Liberation Sans",fill:"#000",stroke:"#000",strokeWidth:.5}):null
    ]});
  place(svg,left,0);
}
lolli({skyline:alphaSkyline,blue:alphaBlue,red:alphaRed,thr:2.7,xMax:728,x0:164,x1:892,axisX:98.5,line:[119,938],labelX:528,withY:true,left:0});
lolli({skyline:betaSkyline,blue:betaBlue,red:betaRed,thr:2.85,xMax:758.5,x0:142.5,x1:901,axisX:75,line:[95,948],labelX:522,withY:false,left:984});

function network(groups,edgeSets,left,fontStroke){
  const nodes=[];groups.forEach(([g,arr])=>arr.forEach(w=>nodes.push({word:w[0],x1:w[1],x2:w[2],y1:w[3],y2:w[4],g})));
  const pos=new Map(nodes.map(n=>[n.word,n]));
  const links=[];
  edgeSets.forEach(([c,b,hub,targets])=>targets.split(" ").forEach(t=>{const A=pos.get(hub),B=pos.get(t);if(A&&B)links.push({A,B,b,c:strokes[c]});}));
  const k=984/1568,font='"Liberation Sans"';
  const mid=(a,b)=>(a+b)/2;
  const arrows=d3.groups(links,d=>d.b).map(([b,ls])=>Plot.arrow(ls,{x1:d=>mid(d.A.x1,d.A.x2),y1:d=>mid(d.A.y1,d.A.y2),x2:d=>mid(d.B.x1,d.B.x2),y2:d=>mid(d.B.y1,d.B.y2),bend:b,headLength:0,stroke:d=>d.c,strokeWidth:1.5}));
  const svg=Plot.plot({width:984,height:990,margin:0,
    x:{domain:[0,1568],range:[0,984],axis:null},y:{domain:[0,1568],range:[0,990],axis:null},color:{type:"identity"},
    marks:[...arrows,
      Plot.rect(nodes.filter(n=>n.g!=="plain"),{x1:"x1",x2:"x2",y1:"y1",y2:"y2",fill:d=>fills[d.g]}),
      Plot.text(nodes,{x:d=>mid(d.x1,d.x2),y:d=>mid(d.y1,d.y2),text:"word",fontFamily:"Liberation Sans",fontSize:d=>fit(d.word,(d.x2-d.x1)*k*.98,font),fill:"#000",stroke:fontStroke?"#000":"none",strokeWidth:fontStroke})
    ]});
  svg.style.filter="blur(0.35px)";
  place(svg,left,730);
}
network([["orange",orangeC],["purple",purpleC],["blue",blueC],["pink",pinkC],["grey",greyC],["plain",plainC],["teal",tealC],["green",greenC],["rose",roseC],["dark",darkC]],edgesC,0,.45);
network([["purple",purpleD],["teal",tealD],["orange",orangeD],["dark",darkD],["grey",greyD],["blue",blueD],["rose",roseD],["green",greenD],["pink",pinkD]],edgesD,984,0);

function cloud(h,v,left){
  const font='"DejaVu Sans Mono"',kx=984/1568,ky=592/1568;
  const svg=Plot.plot({width:984,height:592,margin:0,
    x:{domain:[0,1568],range:[0,984],axis:null},y:{domain:[0,1568],range:[0,592],axis:null},color:{type:"identity"},
    marks:[
      Plot.text(h,{x:d=>(d[1]+d[2])/2,y:d=>d[3],text:d=>d[0],fontFamily:"DejaVu Sans Mono",fontSize:d=>fit(d[0],(d[2]-d[1])*kx*1.03,font),fill:d=>d[4],lineAnchor:"bottom"}),
      Plot.text(v,{x:d=>d[1],y:d=>(d[2]+d[3])/2,text:d=>d[0],rotate:-90,fontFamily:"DejaVu Sans Mono",fontSize:d=>fit(d[0],(d[3]-d[2])*ky*1.03,font),fill:d=>d[4],lineAnchor:"bottom"})
    ]});
  svg.style.filter="blur(0.8px)";
  place(svg,left,1720);
}
cloud(cloudE,cloudEv,0);
cloud(cloudF,cloudFv,984);

function caption(html,l,r,cy,size,lsize){
  const d=document.createElement("div");d.className="cap";d.style.left=l+"px";d.style.fontSize=size+"px";
  d.innerHTML=html;d.querySelector("b").style.fontSize=lsize+"px";page.append(d);
  const w=d.getBoundingClientRect().width,n=d.textContent.length;
  d.style.letterSpacing=((r-l-w)/n)+"px";d.style.top=(cy-d.getBoundingClientRect().height/2)+"px";
}
const Za='<i>Z</i>(<i>α</i>)',Zb='<i>Z</i>(<i>β</i>)';
caption(`<b>a</b>&nbsp; ${Za} outlier maps are in red color`,227,767,703,31,36);
caption(`<b>b</b>&nbsp; ${Zb} outlier maps are in red color`,1222,1762,703,31,36);
caption(`<b>c</b>&nbsp; Network of words from the descriptions of ${Za} outliers`,69,928,1693,31,36);
caption(`<b>d</b>&nbsp; Network of words from the descriptions of ${Zb} outliers`,1056,1922,1693,31,36);
caption(`<b>e</b> Word cloud based on the descriptions of ${Za} outliers`,82,913,2289,34,40);
caption(`<b>f</b> Word cloud based on the descriptions of ${Zb} outliers`,1075,1907,2289,34,40);
</script></body></html>
